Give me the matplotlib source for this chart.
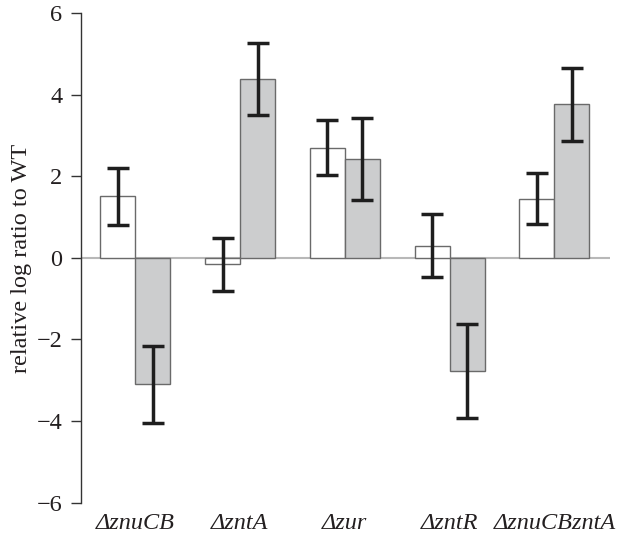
import matplotlib
matplotlib.use("Agg")
import matplotlib.pyplot as plt
import numpy as np

categories = ["ΔznuCB", "ΔzntA", "Δzur", "ΔzntR", "ΔznuCBzntA"]
white_vals = [1.51, -0.16, 2.70, 0.30, 1.45]
white_err = [0.70, 0.64, 0.68, 0.77, 0.62]
grey_vals = [-3.10, 4.39, 2.43, -2.77, 3.77]
grey_err = [0.95, 0.885, 1.00, 1.155, 0.895]
yticks = [-6, -4, -2, 0, 2, 4, 6]

plt.rcParams['font.family'] = ['Liberation Serif', 'DejaVu Serif']
fs = 17.5
tc = '#231f20'

fig = plt.figure(figsize=(6.17, 5.44), dpi=100)
ax = fig.add_axes([0.1308, 0.0759, 0.9887 - 0.1308, 0.976 - 0.0759])

x = np.arange(len(categories))
w = 0.334
ax.axhline(0, color='#b8b8b8', lw=1.5, zorder=1)
ax.bar(x - w/2, white_vals, w, color='white', edgecolor='#6a6a6a', lw=1.0, zorder=2)
ax.bar(x + w/2, grey_vals, w, color='#cccdce', edgecolor='#6a6a6a', lw=1.0, zorder=2)
ax.errorbar(x - w/2, white_vals, yerr=white_err, fmt='none', ecolor='#1e1e1e',
            elinewidth=2.5, capsize=7.6, capthick=2.5, zorder=3)
ax.errorbar(x + w/2, grey_vals, yerr=grey_err, fmt='none', ecolor='#1e1e1e',
            elinewidth=2.5, capsize=7.6, capthick=2.5, zorder=3)

ax.set_xlim(-0.52, 4.53)
ax.set_ylim(-6, 6)
ax.set_yticks(yticks)
ax.set_yticklabels([str(t).replace('-', '−') for t in yticks], fontsize=fs, color=tc)
ax.set_xticks(x)
ax.set_xticklabels(categories, fontsize=fs, style='italic', color=tc)
ax.tick_params(axis='x', length=0, pad=7.5)
ax.tick_params(axis='y', length=7, width=1.0, color='#333333', pad=6.3, direction='out')
for s in ['top', 'right', 'bottom']:
    ax.spines[s].set_visible(False)
ax.spines['left'].set_color('#333333')
ax.spines['left'].set_linewidth(1.0)
ax.set_ylabel('relative log ratio to WT', fontsize=fs, color=tc, labelpad=3)

fig.savefig('out.png', dpi=100)
